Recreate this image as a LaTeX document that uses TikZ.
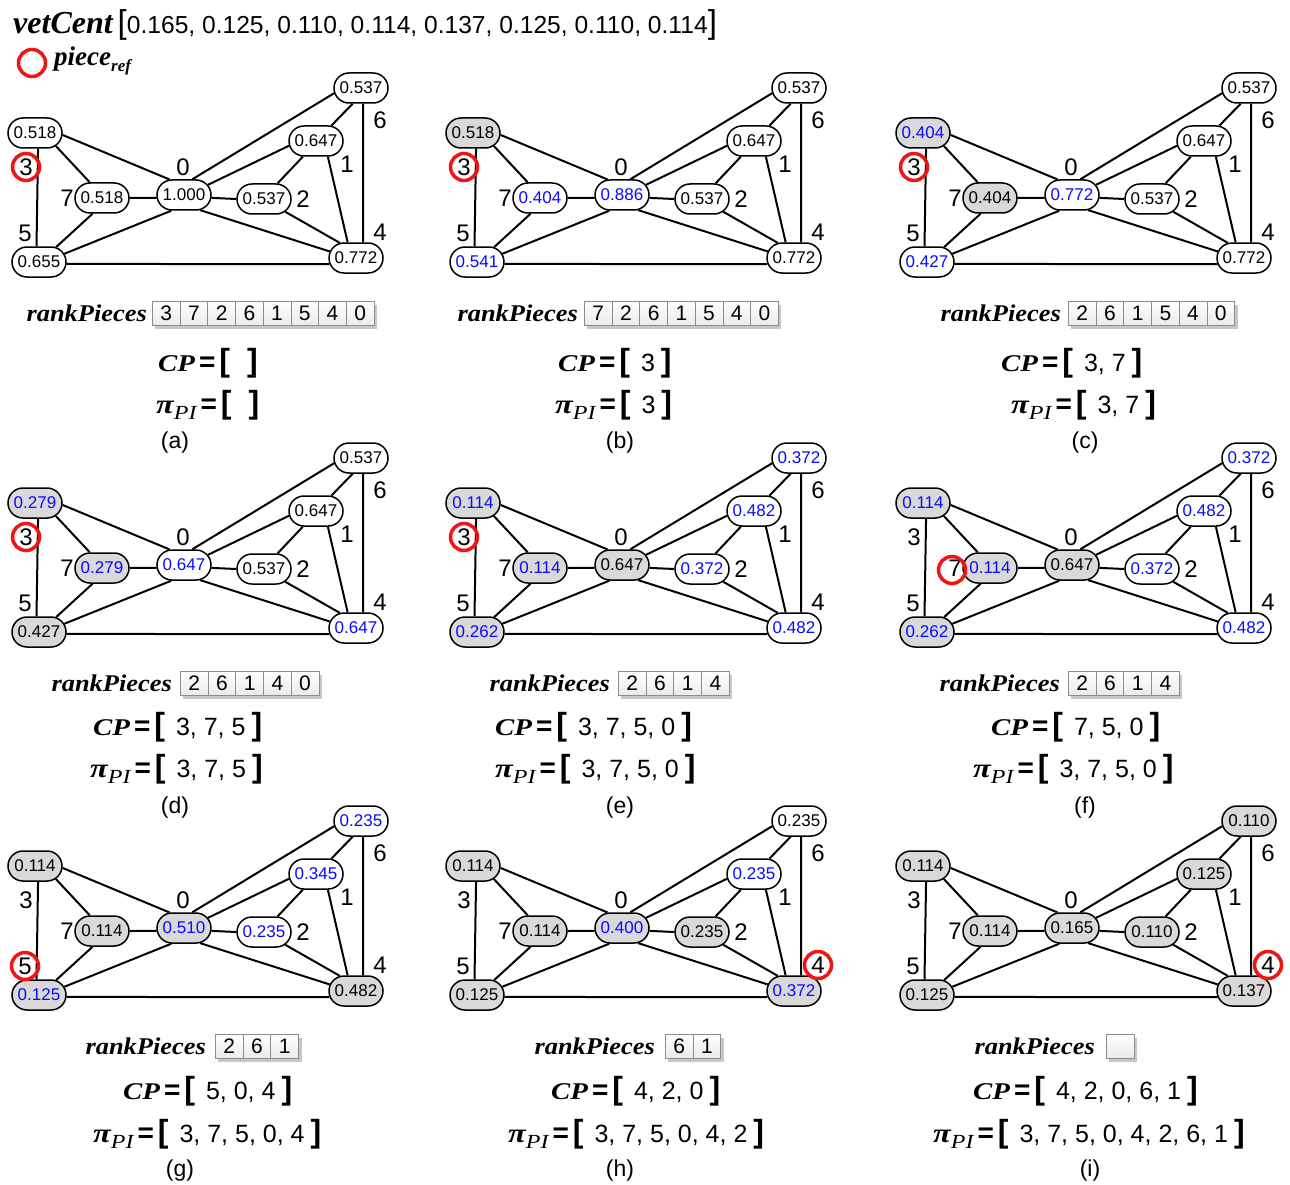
\documentclass[tikz,border=0pt]{standalone}
\usepackage{fontspec}
\setmainfont{Liberation Sans}
\newfontfamily\tnr{Liberation Serif}
\newfontfamily\tnrw[FakeStretch=1.2]{Liberation Serif}
\newfontfamily\tnrm[FakeStretch=1.1]{Liberation Serif}
\usetikzlibrary{shapes.misc,calc,shadows}

\definecolor{vblue}{RGB}{10,10,255}
\definecolor{vgray}{RGB}{217,217,217}
\definecolor{refred}{RGB}{240,20,20}

\newcommand\fs[1]{\fontsize{#1}{#1}\selectfont}

% text pieces of the captions
\newcommand\rpk{{\tnrm\bfseries\itshape\fs{24}rankPieces}}
\newcommand\brk[1]{{\bfseries\fs{32}#1}}
\newcommand\lst[1]{\hspace{4pt}{\bfseries\fs{28}=}\hspace{4pt}\brk{[}\hspace{11pt}{\fs{25}#1}\hspace{6pt}\brk{]}}
\newcommand\CPl[1]{{\tnrw\bfseries\itshape\fs{24}CP}\lst{#1}}
\newcommand\PIl[1]{{\tnrw\bfseries\itshape\fs{27}π}\raisebox{-6pt}{\tnrw\itshape\fs{20}PI}\lst{#1}}

\tikzset{
  vn/.style={rounded rectangle, draw, line width=1.5pt, minimum width=54pt,
    minimum height=30pt, inner sep=0pt, font=\fs{17}},
  wk/.style={fill=white, text=black},
  wb/.style={fill=white, text=vblue},
  gk/.style={fill=vgray, text=black},
  gb/.style={fill=vgray, text=vblue},
  edge/.style={line width=2pt},
  lbl/.style={inner sep=0pt, font=\fs{24}},
  refc/.style={circle, draw=refred, line width=3.5pt, minimum size=27pt, inner sep=0pt},
  cell/.style={draw=black!45, line width=0.8pt, top color=white, bottom color=black!8,
    minimum width=27.7pt, minimum height=24pt, inner sep=0pt, font=\fs{21}, anchor=west,
    drop shadow={shadow xshift=3pt, shadow yshift=-4pt, fill=black!22, opacity=1}},
  txt/.style={inner sep=0pt},
  figcap/.style={inner sep=0pt, font=\fs{23}},
}

\newcommand\vnode[4]{\node[vn,#3] (#1) at #2 {#4};}

% one graph: #1 shift, #2..#9 = {style}{value} of pieces 3,5,7,0,2,1,6,4
\newcommand\graphpanel[9]{%
 \begin{scope}[shift={#1}]
  \vnode{\pf3}{(35,133)}#2
  \vnode{\pf5}{(39,262)}#3
  \vnode{\pf7}{(102,198)}#4
  \vnode{\pf0}{(184,195)}#5
  \vnode{\pf2}{(264,199)}#6
  \vnode{\pf1}{(316,141)}#7
  \vnode{\pf6}{(361,88)}#8
  \vnode{\pf4}{(356,258)}#9
  \node[lbl] (\pf l3) at (26,167) {3};
  \node[lbl] (\pf l5) at (25,233) {5};
  \node[lbl] (\pf l7) at (67,198) {7};
  \node[lbl] (\pf l0) at (183,167) {0};
  \node[lbl] (\pf l2) at (303,199) {2};
  \node[lbl] (\pf l1) at (347,164) {1};
  \node[lbl] (\pf l6) at (380,120) {6};
  \node[lbl] (\pf l4) at (380,232) {4};
  \draw[edge] (\pf3.-79) -- (\pf5.99);
  \draw[edge] (\pf3.-32) -- (\pf7.128);
  \draw[edge] (\pf3.-4) -- (\pf0.133);
  \draw[edge] (\pf5.41) -- (\pf7.-121);
  \draw[edge] (\pf5.18) -- (\pf0.-129);
  \draw[edge] (\pf5.-4) -- (\pf4.193);
  \draw[edge] (\pf7.0) -- (\pf0.186);
  \draw[edge] (\pf0.62) -- (\pf6.191);
  \draw[edge] (\pf0.23) -- (\pf1.190);
  \draw[edge] (\pf0.-6) -- (\pf2.180);
  \draw[edge] (\pf0.-43) -- (\pf4.166);
  \draw[edge] (\pf2.49) -- (\pf1.-130);
  \draw[edge] (\pf2.-31) -- (\pf4.137);
  \draw[edge] (\pf1.-53) -- (\pf4.118);
  \draw[edge] (\pf1.45) -- (\pf6.-118);
  \draw[edge] (\pf6.-82) -- (\pf4.66);
 \end{scope}}

% row of ranked pieces: #1 prefix, #2 first cell west point, #3 list
\newcommand\cells[3]{%
  \foreach \d [count=\i] in {#3} {
    \node[cell] (#1c\i) at ($#2+(27.7*\i-27.7,0)$) {\d};
  }}

\begin{document}
\begin{tikzpicture}[x=1pt, y=-1pt]
\useasboundingbox (0,0) rectangle (1290,1185);
\fill[white] (0,0) rectangle (1290,1185);

% legend
\node[txt, anchor=west] (vc) at (13,25) {{\tnr\bfseries\itshape\fs{32}vetCent}\hspace{5pt}{\fs{33}[}{\fs{24.6}0.165, 0.125, 0.110, 0.114, 0.137, 0.125, 0.110, 0.114}{\fs{33}]}};
\node[refc] (leg) at (32,63) {};
\node[txt, anchor=west] (legt) at (54,61) {{\tnr\bfseries\itshape\fs{27}piece}\raisebox{-6pt}{\tnr\bfseries\itshape\fs{17}ref}};

% (a)
\def\pf{a-}
\graphpanel{(0,0)}{{wk}{0.518}}{{wk}{0.655}}{{wk}{0.518}}{{wk}{1.000}}{{wk}{0.537}}{{wk}{0.647}}{{wk}{0.537}}{{wk}{0.772}}
\node[refc] (a-ref) at (a-l3) {};
\node[txt, anchor=east] (a-rp) at (147,313) {\rpk};
\cells{a-}{(152,313)}{3,7,2,6,1,5,4,0}
\node[txt, anchor=west] (a-cp) at (158,363) {\CPl{\hspace{0pt}}};
\node[txt, anchor=west] (a-pi) at (156,405) {\PIl{\hspace{0pt}}};
\node[figcap] (a-cap) at (175,443) {(a)};

% (b)
\def\pf{b-}
\graphpanel{(438,0)}{{gk}{0.518}}{{wb}{0.541}}{{wb}{0.404}}{{wb}{0.886}}{{wk}{0.537}}{{wk}{0.647}}{{wk}{0.537}}{{wk}{0.772}}
\node[refc] (b-ref) at (b-l3) {};
\node[txt, anchor=east] (b-rp) at (578,313) {\rpk};
\cells{b-}{(584,313)}{7,2,6,1,5,4,0}
\node[txt, anchor=west] (b-cp) at (558,363) {\CPl{3}};
\node[txt, anchor=west] (b-pi) at (555,405) {\PIl{3}};
\node[figcap] (b-cap) at (620,443) {(b)};

% (c)
\def\pf{c-}
\graphpanel{(888,0)}{{gb}{0.404}}{{wb}{0.427}}{{gk}{0.404}}{{wb}{0.772}}{{wk}{0.537}}{{wk}{0.647}}{{wk}{0.537}}{{wk}{0.772}}
\node[refc] (c-ref) at (c-l3) {};
\node[txt, anchor=east] (c-rp) at (1061,313) {\rpk};
\cells{c-}{(1068,313)}{2,6,1,5,4,0}
\node[txt, anchor=west] (c-cp) at (1001,363) {\CPl{3, 7}};
\node[txt, anchor=west] (c-pi) at (1011,405) {\PIl{3, 7}};
\node[figcap] (c-cap) at (1085,443) {(c)};

% (d)
\def\pf{d-}
\graphpanel{(0,370)}{{gb}{0.279}}{{gk}{0.427}}{{gb}{0.279}}{{wb}{0.647}}{{wk}{0.537}}{{wk}{0.647}}{{wk}{0.537}}{{wb}{0.647}}
\node[refc] (d-ref) at (d-l3) {};
\node[txt, anchor=east] (d-rp) at (172,683) {\rpk};
\cells{d-}{(180,683)}{2,6,1,4,0}
\node[txt, anchor=west] (d-cp) at (93,727) {\CPl{3, 7, 5}};
\node[txt, anchor=west] (d-pi) at (90,769) {\PIl{3, 7, 5}};
\node[figcap] (d-cap) at (175,808) {(d)};

% (e)
\def\pf{e-}
\graphpanel{(438,370)}{{gb}{0.114}}{{gb}{0.262}}{{gb}{0.114}}{{gk}{0.647}}{{wb}{0.372}}{{wb}{0.482}}{{wb}{0.372}}{{wb}{0.482}}
\node[refc] (e-ref) at (e-l3) {};
\node[txt, anchor=east] (e-rp) at (610,683) {\rpk};
\cells{e-}{(618,683)}{2,6,1,4}
\node[txt, anchor=west] (e-cp) at (495,727) {\CPl{3, 7, 5, 0}};
\node[txt, anchor=west] (e-pi) at (495,769) {\PIl{3, 7, 5, 0}};
\node[figcap] (e-cap) at (620,808) {(e)};

% (f)
\def\pf{f-}
\graphpanel{(888,370)}{{gb}{0.114}}{{gb}{0.262}}{{gb}{0.114}}{{gk}{0.647}}{{wb}{0.372}}{{wb}{0.482}}{{wb}{0.372}}{{wb}{0.482}}
\node[refc] (f-ref) at ([shift={(-3,2)}]f-l7) {};
\node[txt, anchor=east] (f-rp) at (1060,683) {\rpk};
\cells{f-}{(1068,683)}{2,6,1,4}
\node[txt, anchor=west] (f-cp) at (991,727) {\CPl{7, 5, 0}};
\node[txt, anchor=west] (f-pi) at (973,769) {\PIl{3, 7, 5, 0}};
\node[figcap] (f-cap) at (1085,808) {(f)};

% (g)
\def\pf{g-}
\graphpanel{(0,733)}{{gk}{0.114}}{{gb}{0.125}}{{gk}{0.114}}{{gb}{0.510}}{{wb}{0.235}}{{wb}{0.345}}{{wb}{0.235}}{{gk}{0.482}}
\node[refc] (g-ref) at (g-l5) {};
\node[txt, anchor=east] (g-rp) at (206,1046) {\rpk};
\cells{g-}{(215,1046)}{2,6,1}
\node[txt, anchor=west] (g-cp) at (123,1091) {\CPl{5, 0, 4}};
\node[txt, anchor=west] (g-pi) at (93,1134) {\PIl{3, 7, 5, 0, 4}};
\node[figcap] (g-cap) at (180,1171) {(g)};

% (h)
\def\pf{h-}
\graphpanel{(438,733)}{{gk}{0.114}}{{gk}{0.125}}{{gk}{0.114}}{{gb}{0.400}}{{gk}{0.235}}{{wb}{0.235}}{{wk}{0.235}}{{gb}{0.372}}
\node[refc] (h-ref) at (h-l4) {};
\node[txt, anchor=east] (h-rp) at (655,1046) {\rpk};
\cells{h-}{(665,1046)}{6,1}
\node[txt, anchor=west] (h-cp) at (551,1091) {\CPl{4, 2, 0}};
\node[txt, anchor=west] (h-pi) at (508,1134) {\PIl{3, 7, 5, 0, 4, 2}};
\node[figcap] (h-cap) at (620,1171) {(h)};

% (i)
\def\pf{i-}
\graphpanel{(888,733)}{{gk}{0.114}}{{gk}{0.125}}{{gk}{0.114}}{{gk}{0.165}}{{gk}{0.110}}{{gk}{0.125}}{{gk}{0.110}}{{gk}{0.137}}
\node[refc] (i-ref) at (i-l4) {};
\node[txt, anchor=east] (i-rp) at (1095,1046) {\rpk};
\node[cell] (i-c1) at (1106,1046) {};
\node[txt, anchor=west] (i-cp) at (973,1091) {\CPl{4, 2, 0, 6, 1}};
\node[txt, anchor=west] (i-pi) at (933,1134) {\PIl{3, 7, 5, 0, 4, 2, 6, 1}};
\node[figcap] (i-cap) at (1090,1171) {(i)};
\end{tikzpicture}
\end{document}
